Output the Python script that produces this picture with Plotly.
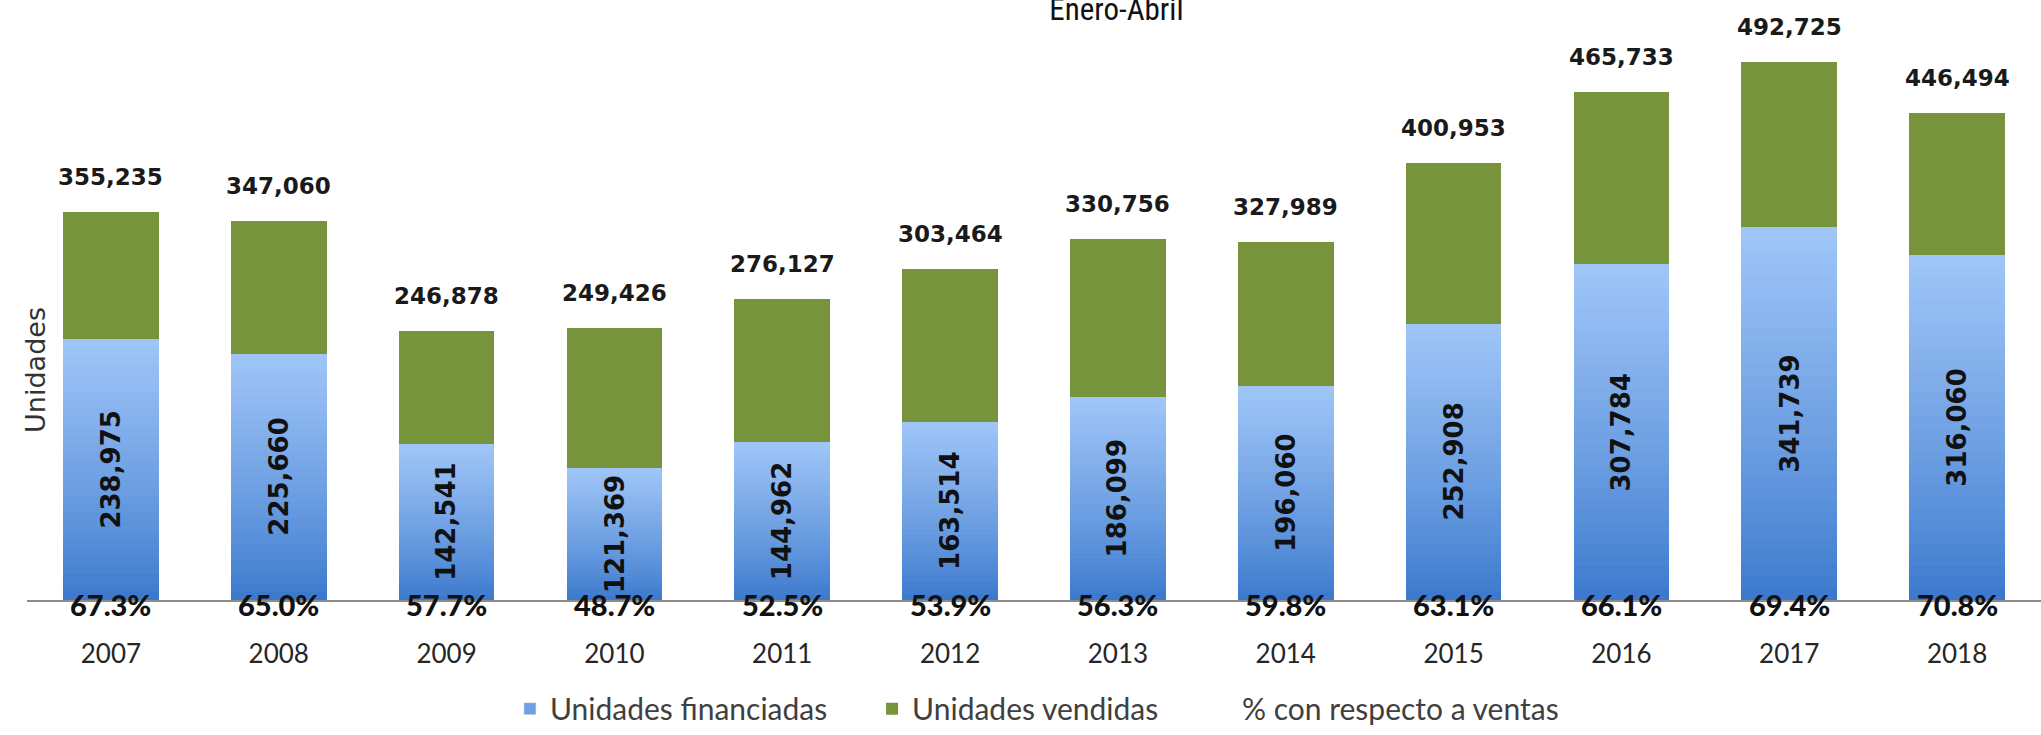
import plotly.graph_objects as go

years = ["2007", "2008", "2009", "2010", "2011", "2012", "2013", "2014", "2015", "2016", "2017", "2018"]
vendidas = [355235, 347060, 246878, 249426, 276127, 303464, 330756, 327989, 400953, 465733, 492725, 446494]
financiadas = [238975, 225660, 142541, 121369, 144962, 163514, 186099, 196060, 252908, 307784, 341739, 316060]
porcentaje = [67.3, 65.0, 57.7, 48.7, 52.5, 53.9, 56.3, 59.8, 63.1, 66.1, 69.4, 70.8]

GREEN = "#77933C"
BLUE_TOP = (160, 198, 248)
BLUE_BOT = (58, 120, 204)
BAR_W = 0.57
N_SLICES = 30

fig = go.Figure()

# green bars (unidades vendidas), drawn behind
fig.add_trace(go.Bar(
    x=years, y=vendidas, name="Unidades vendidas", marker=dict(color=GREEN, line=dict(width=0)),
    width=BAR_W, legend="legend2", hoverinfo="y",
))

# blue bars with vertical gradient, built from slices of each financiadas value
for i in range(N_SLICES):
    t = (i + 0.5) / N_SLICES
    tt = t ** 0.85
    col = tuple(int(round(BLUE_BOT[k] + (BLUE_TOP[k] - BLUE_BOT[k]) * tt)) for k in range(3))
    fig.add_trace(go.Bar(
        x=years,
        y=[f / N_SLICES for f in financiadas],
        base=[f * i / N_SLICES for f in financiadas],
        marker=dict(color="rgb(%d,%d,%d)" % col, line=dict(width=0)),
        width=BAR_W,
        name="Unidades financiadas",
        showlegend=False,
        hoverinfo="skip",
        legendgroup="fin",
    ))

# legend entry for financiadas
fig.add_trace(go.Bar(
    x=[years[0]], y=[None], name="Unidades financiadas",
    marker=dict(color="rgb(110,160,226)"), legend="legend", legendgroup="fin",
))

# percentage series (labels drawn as annotations at the base of each bar)
fig.add_trace(go.Scatter(
    x=years, y=[0] * len(years), mode="markers",
    customdata=porcentaje, hovertemplate="%{customdata:.1f}%<extra></extra>",
    marker=dict(color="rgba(0,0,0,0)", size=1),
    name="% con respecto a ventas", legend="legend3", cliponaxis=False,
))

annotations = []
for i, v in enumerate(vendidas):
    annotations.append(dict(
        x=i, y=v, xref="x", yref="y", text=f"{v:,}", showarrow=False,
        yanchor="middle", yshift=35,
        font=dict(family="DejaVu Sans", size=23, color="#1a1a1a", weight="bold"),
    ))
for i, f in enumerate(financiadas):
    annotations.append(dict(
        x=i, y=f / 2, xref="x", yref="y", text=f"{f:,}", showarrow=False,
        textangle=-90, xanchor="center", yanchor="middle",
        font=dict(family="DejaVu Sans", size=26, color="#111111", weight="bold"),
    ))
for i, p in enumerate(porcentaje):
    annotations.append(dict(
        x=i, y=0, xref="x", yref="y", text="%.1f%%" % p, showarrow=False,
        yanchor="middle", yshift=-4,
        font=dict(family="Lato", size=29, color="#111111", weight=900),
    ))
annotations.append(dict(
    x=0.0045, y=0.411, xref="paper", yref="paper", text="Unidades", showarrow=False,
    textangle=-90, xanchor="center", yanchor="middle",
    font=dict(family="DejaVu Sans", size=27, color="#333333"),
))

legend_common = dict(
    orientation="h", yanchor="middle", y=-0.194, xanchor="left",
    font=dict(family="Lato", size=30, color="#404040"), bgcolor="rgba(0,0,0,0)",
    itemclick=False, itemdoubleclick=False,
)

fig.update_layout(
    width=2041, height=735,
    margin=dict(l=27, r=0, t=40, b=118),
    paper_bgcolor="white", plot_bgcolor="white",
    barmode="overlay", bargap=0, bargroupgap=0,
    title=dict(text="Enero-Abril", x=0.547, xref="container", xanchor="center",
               y=0.988, yref="container", yanchor="middle",
               font=dict(family="Liberation Sans Narrow, Roboto Condensed, Liberation Sans",
                         size=31, color="#111111")),
    xaxis=dict(
        type="category", categoryorder="array", categoryarray=years, range=[-0.5, 11.5],
        showline=True, linecolor="#8c8c8c", linewidth=1.5, showgrid=False, zeroline=False,
        ticks="outside", ticklen=30, tickcolor="rgba(0,0,0,0)",
        tickfont=dict(family="Lato", size=26, color="#262626"),
    ),
    yaxis=dict(range=[0, 513300], showticklabels=False, showgrid=False, zeroline=False,
               showline=False, ticks=""),
    annotations=annotations,
    legend=dict(x=0.2398, **legend_common),
    legend2=dict(x=0.4196, **legend_common),
    legend3=dict(x=0.5834, **legend_common),
    showlegend=True,
)

fig.write_html("out.html", config={"displayModeBar": False},
               post_script="document.body.style.margin='0';document.body.style.overflow='hidden';")
